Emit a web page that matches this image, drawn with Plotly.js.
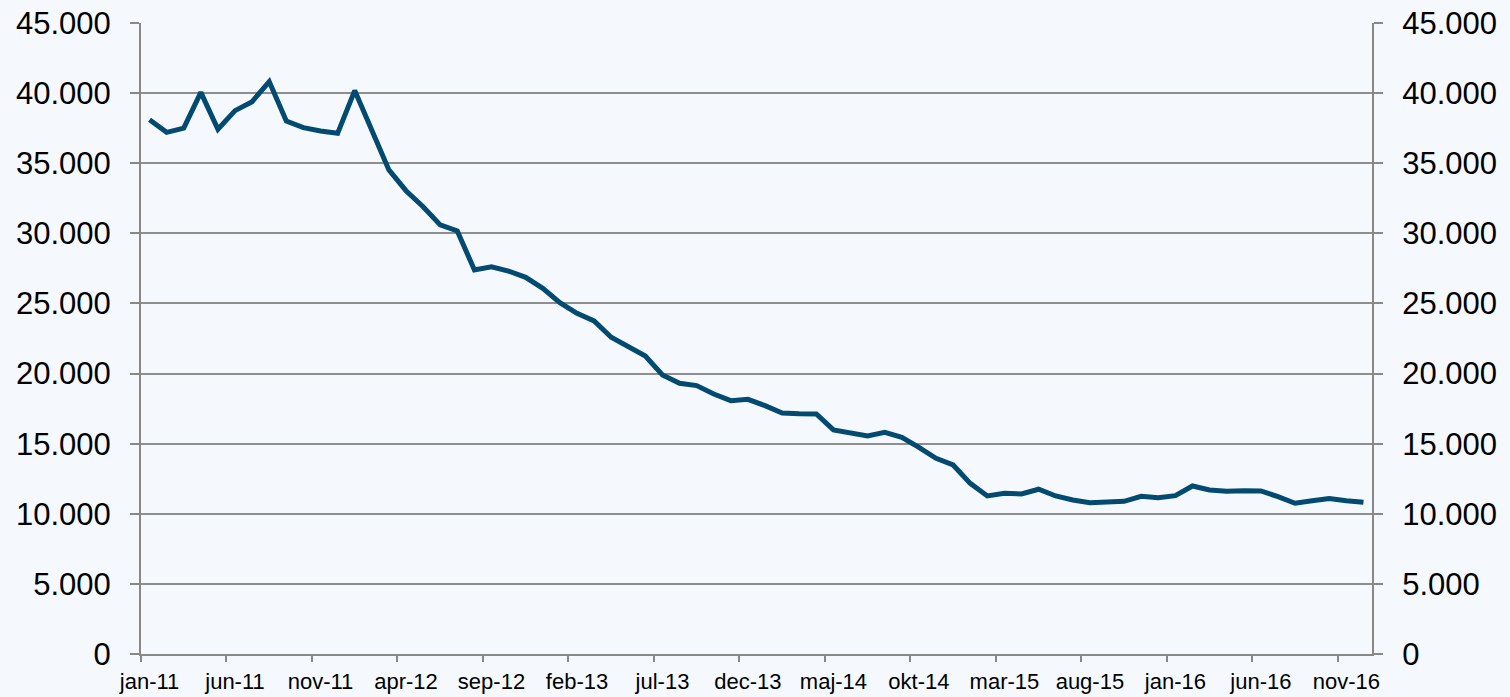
<!DOCTYPE html>
<html>
<head>
<meta charset="utf-8">
<script src="https://cdn.plot.ly/plotly-3.0.1.min.js"></script>
<style>
html,body{margin:0;padding:0;background:#F5F9FD;}
#chart{width:1510px;height:697px;}
</style>
</head>
<body>
<div id="chart"></div>
<script>
const months = [
  "jan-11","feb-11","mar-11","apr-11","maj-11","jun-11","jul-11","aug-11","sep-11","okt-11","nov-11","dec-11",
  "jan-12","feb-12","mar-12","apr-12","maj-12","jun-12","jul-12","aug-12","sep-12","okt-12","nov-12","dec-12",
  "jan-13","feb-13","mar-13","apr-13","maj-13","jun-13","jul-13","aug-13","sep-13","okt-13","nov-13","dec-13",
  "jan-14","feb-14","mar-14","apr-14","maj-14","jun-14","jul-14","aug-14","sep-14","okt-14","nov-14","dec-14",
  "jan-15","feb-15","mar-15","apr-15","maj-15","jun-15","jul-15","aug-15","sep-15","okt-15","nov-15","dec-15",
  "jan-16","feb-16","mar-16","apr-16","maj-16","jun-16","jul-16","aug-16","sep-16","okt-16","nov-16","dec-16"
];
const values = [
  38100, 37200, 37500, 40050, 37420, 38750, 39390, 40820, 38010, 37540, 37300, 37130,
  40180, 37300, 34520, 33040, 31900, 30600, 30170, 27390, 27620, 27310, 26860, 26080,
  25060, 24300, 23750, 22590, 21920, 21250, 19900, 19310, 19140, 18540, 18070, 18160,
  17710, 17190, 17140, 17120, 15980, 15740, 15550, 15810, 15450, 14740, 13960, 13480,
  12170, 11270, 11460, 11410, 11750, 11270, 10980, 10790, 10820, 10890, 11250, 11150,
  11290, 11980, 11700, 11600, 11650, 11630, 11220, 10750, 10930, 11080, 10930, 10820
];
const tickLabels = ["jan-11","jun-11","nov-11","apr-12","sep-12","feb-13","jul-13","dec-13","maj-14","okt-14","mar-15","aug-15","jan-16","jun-16","nov-16"];
const yTicks = [0, 5000, 10000, 15000, 20000, 25000, 30000, 35000, 40000, 45000];

const xIdx = months.map((m, i) => i);
const labelPos = tickLabels.map(t => months.indexOf(t));
const boundaryPos = labelPos.map(p => p - 0.5);
const xRange = [-0.5, months.length - 0.5];

const bg = '#F5F9FD';
const axisCol = '#888888';
const fam = '"Liberation Sans", Arial, sans-serif';

const trace = {
  x: xIdx, y: values, type: 'scatter', mode: 'lines',
  line: {color: '#024A70', width: 5},
  hoverinfo: 'skip', showlegend: false
};
// empty helper trace so the overlay axes (tick marks / right axis) are drawn
const helper = {
  x: [], y: [], xaxis: 'x2', yaxis: 'y2', type: 'scatter', mode: 'lines',
  hoverinfo: 'skip', showlegend: false
};

const yCommon = {
  range: [0, 45000], tickmode: 'array', tickvals: yTicks, tickformat: ',d',
  ticks: 'outside', ticklen: 9, tickwidth: 2, tickcolor: axisCol,
  ticklabelstandoff: 13,
  showline: true, linecolor: axisCol, linewidth: 2,
  zeroline: false,
  tickfont: {size: 31, family: fam, color: '#000'}
};

const layout = {
  width: 1510, height: 697,
  paper_bgcolor: bg, plot_bgcolor: bg,
  margin: {l: 141, r: 138, t: 23, b: 43, pad: 0},
  separators: ',.',
  font: {family: fam, color: '#000'},
  showlegend: false,
  xaxis: {
    type: 'linear', range: xRange,
    tickmode: 'array', tickvals: labelPos, ticktext: tickLabels,
    ticks: '', ticklabelstandoff: 7,
    showline: true, linecolor: axisCol, linewidth: 2,
    showgrid: false, zeroline: false,
    tickfont: {size: 22, family: fam, color: '#000'}
  },
  xaxis2: {
    type: 'linear', range: xRange, overlaying: 'x', anchor: 'y', side: 'bottom',
    tickmode: 'array', tickvals: boundaryPos,
    ticks: 'outside', ticklen: 7, tickwidth: 2, tickcolor: axisCol,
    showticklabels: false, showline: false, showgrid: false, zeroline: false
  },
  yaxis: Object.assign({}, yCommon, {
    showgrid: true, gridcolor: '#8E8E8E', gridwidth: 2
  }),
  yaxis2: Object.assign({}, yCommon, {
    overlaying: 'y', side: 'right', anchor: 'x', showgrid: false
  })
};

Plotly.newPlot('chart', [trace, helper], layout, {staticPlot: true, displayModeBar: false});
</script>
</body>
</html>
